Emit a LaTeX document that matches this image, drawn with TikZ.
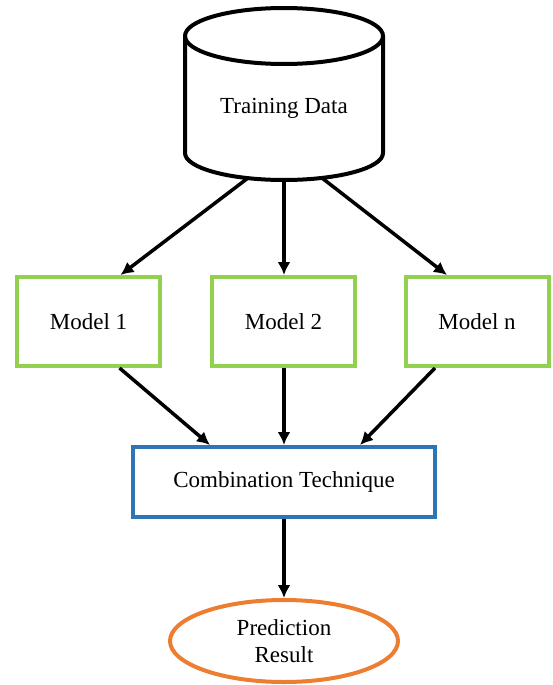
\documentclass[tikz,border=0pt]{standalone}
\usepackage{fontspec}
\setmainfont{Liberation Serif}
\usetikzlibrary{arrows.meta,calc,shapes.geometric}
\definecolor{mgreen}{HTML}{92D050}
\definecolor{mblue}{HTML}{2E75B6}
\definecolor{morange}{HTML}{ED7D31}
\begin{document}
\begin{tikzpicture}[x=1pt,y=-1pt,
  txt/.style={font=\fontsize{23}{27}\selectfont},
  arr/.style={line width=3.5pt,-{Latex[length=13pt,width=13pt]}},
  modelbox/.style={draw=mgreen,line width=4pt,minimum width=143pt,minimum height=89pt,txt},
  combbox/.style={draw=mblue,line width=4pt,minimum width=302pt,minimum height=70pt,txt},
  resell/.style={draw=morange,line width=4pt,ellipse,minimum width=228pt,minimum height=82pt,inner sep=0pt,align=center,txt},
  cyl/.style={line width=4pt}]
\useasboundingbox (0,0) rectangle (553,685);
% cylinder
\draw[cyl] (284,36) ellipse [x radius=99pt, y radius=28pt];
\draw[cyl] (185,36) -- (185,153) arc[start angle=180,end angle=360,x radius=99pt,y radius=27pt] -- (383,36);
\node[txt] (td) at (284,108) {Training Data};
\coordinate (cb1) at (248,178);
\coordinate (cb2) at (284,180);
\coordinate (cb3) at (322,178);
% models
\node[modelbox] (m1) at (88.5,321.5) {Model 1};
\node[modelbox] (m2) at (283.5,321.5) {Model 2};
\node[modelbox] (mn) at (477,321.5) {Model n};
% combination
\node[combbox] (ct) at (284,482) {Combination Technique};
% result
\node[resell] (pr) at (284,641) {Prediction\\Result};
% arrows
\draw[arr] (cb1) -- ([xshift=32pt]m1.north);
\draw[arr] (cb2) -- (cb2 |- m2.north);
\draw[arr] (cb3) -- ([xshift=-30pt]mn.north);
\draw[arr] ([xshift=31pt]m1.south) -- ([xshift=-74pt]ct.north);
\draw[arr] (m2.south -| cb2) -- (ct.north);
\draw[arr] ([xshift=-42pt]mn.south) -- ([xshift=76pt]ct.north);
\draw[arr] (ct.south) -- (pr.north);
\end{tikzpicture}
\end{document}
